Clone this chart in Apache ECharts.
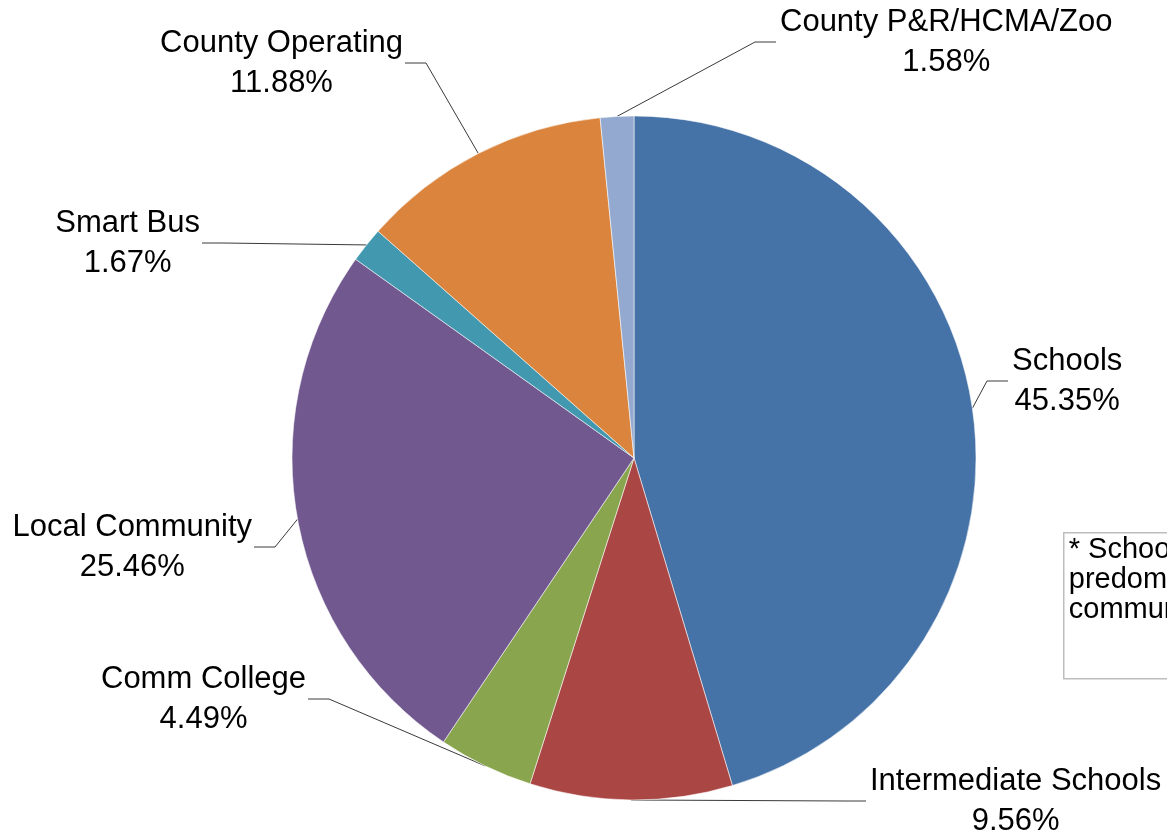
<!DOCTYPE html>
<html>
<head>
<meta charset="utf-8">
<script src="https://cdn.jsdelivr.net/npm/echarts@6/dist/echarts.min.js"></script>
<style>
html,body{margin:0;padding:0;background:#fff;}
#chart{width:1167px;height:838px;}
</style>
</head>
<body>
<div id="chart"></div>
<script>
const categories = ['Schools', 'Intermediate Schools', 'Comm College', 'Local Community', 'Smart Bus', 'County Operating', 'County P&R/HCMA/Zoo'];
const shares = [45.35, 9.56, 4.49, 25.46, 1.67, 11.88, 1.58];
const sliceColors = ['#4572A7', '#AA4643', '#89A54E', '#71588F', '#4198AF', '#DB843D', '#93A9CF'];
const noteLines = ['* Schools are', 'predominantly', 'community-based'];

// label placement (text edge x, middle y, side)
const labelPlace = [
  {x: 1012, y: 381, align: 'left'},
  {x: 870, y: 801, align: 'left'},
  {x: 306, y: 699, align: 'right'},
  {x: 252, y: 547, align: 'right'},
  {x: 200, y: 243, align: 'right'},
  {x: 403, y: 63, align: 'right'},
  {x: 780, y: 42, align: 'left'}
];

const chart = echarts.init(document.getElementById('chart'), null, {renderer: 'canvas'});
const data = categories.map((c, i) => ({name: c, value: shares[i], itemStyle: {color: sliceColors[i]}}));

chart.setOption({
  animation: false,
  backgroundColor: '#ffffff',
  series: [{
    type: 'pie',
    center: [634, 458],
    radius: 342,
    startAngle: 90,
    clockwise: true,
    avoidLabelOverlap: false,
    data: data,
    itemStyle: {borderColor: 'rgba(255,255,255,0.55)', borderWidth: 1},
    label: {
      show: true,
      position: 'outside',
      color: '#000',
      fontFamily: 'Liberation Sans, Arial, sans-serif',
      fontSize: 31,
      lineHeight: 40,
      formatter: p => '{n|' + p.name + '}\n{v|' + p.value.toFixed(2) + '%}',
      rich: {
        n: {align: 'center', fontSize: 31, lineHeight: 40, color: '#000', fontFamily: 'Liberation Sans, Arial, sans-serif'},
        v: {align: 'center', fontSize: 31, lineHeight: 40, color: '#000', fontFamily: 'Liberation Sans, Arial, sans-serif'}
      }
    },
    labelLine: {show: true, length: 20, length2: 20, lineStyle: {color: '#3a3a3a', width: 1}},
    labelLayout: function (params) {
      const p = labelPlace[params.dataIndex];
      const anchor = params.labelLinePoints ? params.labelLinePoints[0] : [0, 0];
      const end = p.align === 'left' ? p.x - 4 : p.x + 2;
      const elbow = p.align === 'left' ? end - 21 : end + 21;
      return {
        x: p.x, y: p.y, align: p.align, verticalAlign: 'middle',
        labelLinePoints: [anchor, [elbow, p.y], [end, p.y]]
      };
    }
  }],
  graphic: [{
    type: 'group',
    left: 1063, top: 532,
    children: [
      {type: 'rect', shape: {x: 0, y: 0, width: 220, height: 146}, style: {fill: '#fff', stroke: '#bdbdbd', lineWidth: 1.5}},
      {type: 'text', x: 5, y: 2, style: {text: noteLines.join('\n'), font: '29px "Liberation Sans", Arial, sans-serif', lineHeight: 30, fill: '#000'}}
    ]
  }]
});
</script>
</body>
</html>
